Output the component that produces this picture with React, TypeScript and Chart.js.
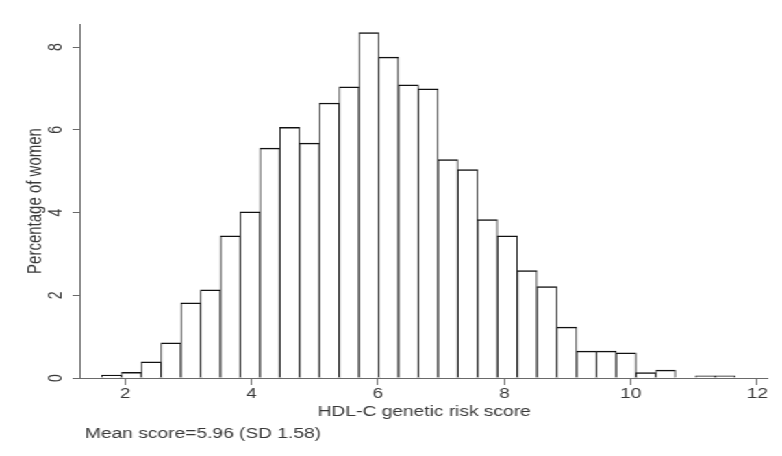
import React, { useEffect, useRef } from "react";
import { Chart, registerables } from "chart.js";

Chart.register(...registerables);

// Histogram bins (bin centres on the score axis) and heights (% of women)
const binCenters = [
  1.787, 2.1, 2.413, 2.726, 3.039, 3.352, 3.665, 3.978, 4.291, 4.604, 4.917,
  5.23, 5.543, 5.856, 6.169, 6.482, 6.795, 7.108, 7.421, 7.734, 8.047, 8.36,
  8.673, 8.986, 9.299, 9.612, 9.925, 10.238, 10.551, 10.864, 11.177, 11.49,
];
const percentWomen = [
  0.07, 0.14, 0.39, 0.85, 1.82, 2.13, 3.44, 4.02, 5.56, 6.06, 5.68, 6.65,
  7.04, 8.35, 7.76, 7.09, 6.99, 5.28, 5.04, 3.83, 3.44, 2.6, 2.21, 1.23, 0.65,
  0.65, 0.61, 0.13, 0.19, 0, 0.05, 0.05,
];
const xTickValues = [2, 4, 6, 8, 10, 12];
const yTickValues = [0, 2, 4, 6, 8];
const xTitle = "HDL-C genetic risk score";
const yTitle = "Percentage of women";
const footnote = "Mean score=5.96 (SD 1.58)";

const CANVAS_W = 571;
const CANVAS_H = 456;
const STRETCH = 782 / CANVAS_W;
const FONT = '"Liberation Sans", Arial, Helvetica, sans-serif';
const TEXT = "#383838";
const AXIS = "#6a6a6a";

export default function App() {
  const ref = useRef<HTMLCanvasElement | null>(null);

  useEffect(() => {
    if (!ref.current) return;
    const footnotePlugin = {
      id: "footnote",
      afterDraw(chart: any) {
        const ctx = chart.ctx;
        ctx.save();
        ctx.font = `14px ${FONT}`;
        ctx.fillStyle = TEXT;
        ctx.textBaseline = "middle";
        ctx.textAlign = "left";
        ctx.fillText(footnote, chart.chartArea.left + 3.3, 434);
        ctx.restore();
      },
    };

    const chart = new Chart(ref.current, {
      type: "bar",
      data: {
        datasets: [
          {
            data: binCenters.map((x, i) => ({ x, y: percentWomen[i] })),
            backgroundColor: "#ffffff",
            borderColor: "#111111",
            borderWidth: { top: 1.5, left: 0.9, right: 0.9, bottom: 0 },
            borderSkipped: "start",
            barPercentage: 1,
            categoryPercentage: 1,
          },
        ],
      },
      options: {
        animation: false,
        responsive: true,
        maintainAspectRatio: false,
        layout: { padding: { left: 0, top: 24, right: 10.2, bottom: 0 } },
        plugins: {
          legend: { display: false },
          tooltip: { enabled: false },
          title: { display: false },
        },
        scales: {
          x: {
            type: "linear",
            offset: false,
            min: 1.296,
            max: 12.17,
            afterBuildTicks: (scale: any) => {
              scale.ticks = xTickValues.map((v) => ({ value: v }));
            },
            afterFit: (scale: any) => {
              scale.height = 78;
            },
            ticks: {
              autoSkip: false,
              maxRotation: 0,
              padding: 1,
              color: TEXT,
              font: { family: FONT, size: 14 },
            },
            grid: {
              offset: false,
              drawOnChartArea: false,
              drawTicks: true,
              tickLength: 7,
              color: AXIS,
              lineWidth: 1,
            },
            border: { display: true, color: AXIS, width: 1 },
            title: {
              display: true,
              text: xTitle,
              color: TEXT,
              font: { family: FONT, size: 14 },
              padding: { top: 0, bottom: 35.3 },
            },
          },
          y: {
            type: "linear",
            min: 0,
            max: 8.56,
            afterBuildTicks: (scale: any) => {
              scale.ticks = yTickValues.map((v) => ({ value: v }));
            },
            afterFit: (scale: any) => {
              scale.width = 58.8;
            },
            ticks: {
              autoSkip: false,
              minRotation: 90,
              maxRotation: 90,
              crossAlign: "center",
              padding: 8.2,
              color: TEXT,
              font: { family: FONT, size: 14 },
            },
            grid: {
              drawOnChartArea: false,
              drawTicks: true,
              tickLength: 5.8,
              color: AXIS,
              lineWidth: 1,
            },
            border: { display: true, color: AXIS, width: 1 },
            title: {
              display: true,
              text: yTitle,
              color: TEXT,
              font: { family: FONT, size: 15 },
              padding: { top: 17, bottom: 0 },
            },
          },
        },
      } as any,
      plugins: [footnotePlugin],
    });
    return () => chart.destroy();
  }, []);

  return (
    <div
      style={{
        position: "fixed",
        left: 0,
        top: 0,
        width: CANVAS_W,
        height: CANVAS_H,
        transform: `scaleX(${STRETCH})`,
        transformOrigin: "0 0",
        background: "#ffffff",
      }}
    >
      <canvas ref={ref} />
    </div>
  );
}
